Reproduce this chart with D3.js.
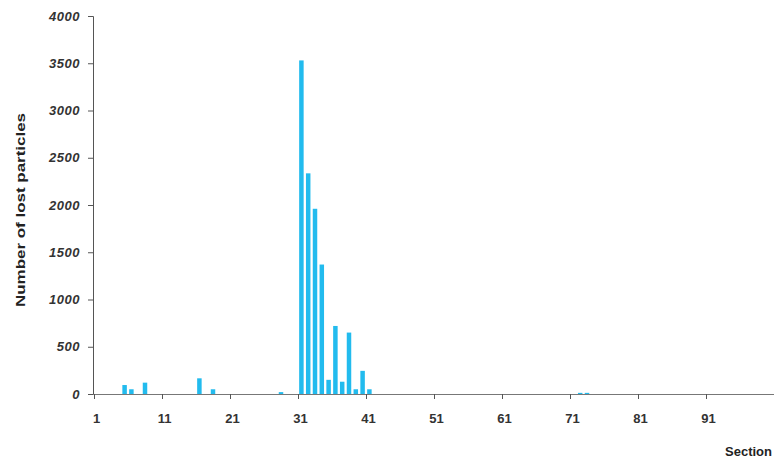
<!DOCTYPE html>
<html>
<head>
<meta charset="utf-8">
<script src="https://cdn.jsdelivr.net/npm/d3@7"></script>
<style>
  body { margin: 0; background: #fff; }
  svg text { font-family: "Liberation Sans", Arial, sans-serif; }
</style>
</head>
<body>
<div id="chart"></div>
<script>
// sections with non-zero losses (all others 0)
const sections = [5, 6, 8, 16, 18, 28, 31, 32, 33, 34, 35, 36, 37, 38, 39, 40, 41, 72, 73];
const lost     = [95, 50, 120, 166, 50, 20, 3530, 2335, 1960, 1370, 150, 720, 130, 650, 50, 245, 50, 12, 12];
const xTicks = [1, 11, 21, 31, 41, 51, 61, 71, 81, 91];
const yTicks = [0, 500, 1000, 1500, 2000, 2500, 3000, 3500, 4000];

const width = 774, height = 461;
const area = { left: 93, right: 774, top: 16, bottom: 394 };

const svg = d3.select('#chart').append('svg')
    .attr('width', width)
    .attr('height', height);

// 100 categories, tick marks sit between categories
const xEdge = d3.scaleLinear().domain([1, 101]).range([94, 774]);
const xBand = d3.scaleBand()
    .domain(d3.range(1, 101))
    .range([94, 774])
    .paddingInner(0.34)
    .paddingOuter(0.17);

const yScale = d3.scaleLinear().domain([0, 4000]).range([area.bottom, area.top]);

// bars
svg.append('g')
    .selectAll('rect')
    .data(sections.map((s, i) => ({ s, v: lost[i] })))
    .join('rect')
    .attr('x', d => xBand(d.s))
    .attr('width', xBand.bandwidth())
    .attr('y', d => yScale(d.v))
    .attr('height', d => yScale(0) - yScale(d.v))
    .attr('fill', '#22bbee');

// y axis
const yAxis = svg.append('g')
    .attr('transform', `translate(${area.left},0)`)
    .call(d3.axisLeft(yScale).tickValues(yTicks).tickSize(5).tickPadding(8).tickFormat(d3.format('d')));
yAxis.select('.domain').attr('stroke', '#555');
yAxis.selectAll('line').attr('stroke', '#555');
yAxis.selectAll('text')
    .style('font-size', '13px')
    .style('font-weight', 'bold')
    .style('font-style', 'italic')
    .style('letter-spacing', '0.5px')
    .attr('fill', '#333');

// x axis
const xAxis = svg.append('g')
    .attr('transform', `translate(0,${area.bottom})`)
    .call(d3.axisBottom(xEdge).tickValues(xTicks).tickSize(5).tickSizeOuter(0).tickPadding(15));
xAxis.select('.domain').attr('stroke', '#777').attr('d', `M${area.left},0.5H${area.right}`);
xAxis.selectAll('line').attr('stroke', '#555');
xAxis.selectAll('text')
    .attr('dx', 2)
    .style('font-size', '13px')
    .style('font-weight', 'bold')
    .attr('fill', '#333');

// titles
svg.append('text')
    .attr('transform', 'translate(25,210) rotate(-90)')
    .attr('text-anchor', 'middle')
    .attr('textLength', 194)
    .attr('lengthAdjust', 'spacingAndGlyphs')
    .style('font-size', '13px')
    .style('font-weight', 'bold')
    .attr('fill', '#222')
    .text('Number of lost particles');

svg.append('text')
    .attr('x', 772)
    .attr('y', 456)
    .attr('text-anchor', 'end')
    .style('font-size', '13px')
    .style('font-weight', 'bold')
    .attr('fill', '#222')
    .text('Section');
</script>
</body>
</html>
